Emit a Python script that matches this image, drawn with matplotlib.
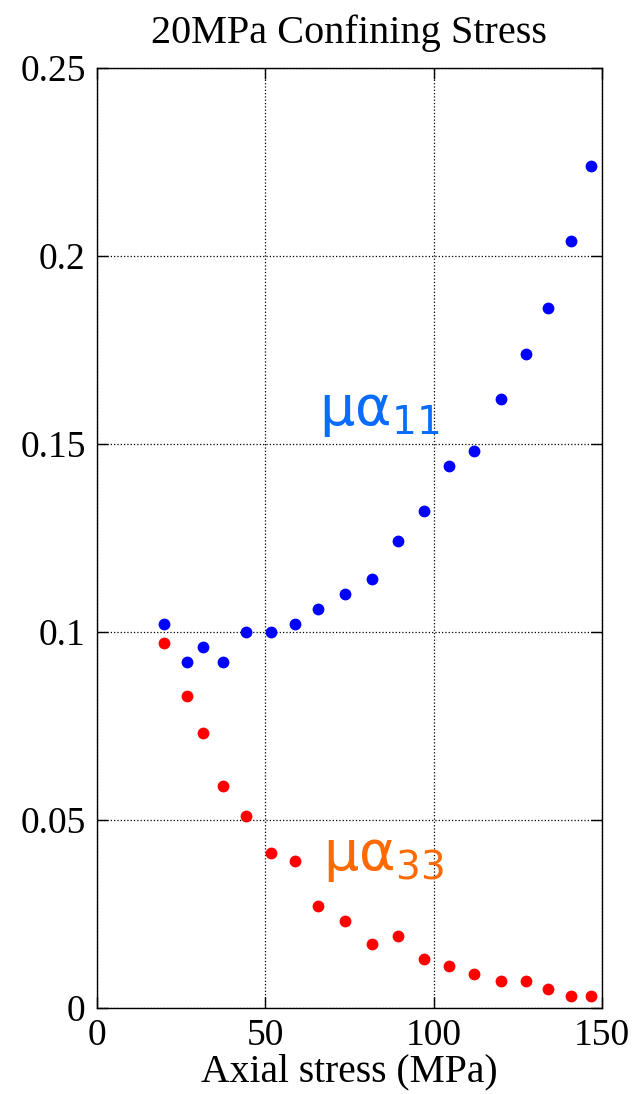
import numpy as np
import matplotlib
matplotlib.use('Agg')
import matplotlib.pyplot as plt

# axial stress values (MPa)
axial = [20.0, 26.7, 31.4, 37.4, 44.3, 51.8, 58.8, 65.7, 73.7, 81.7,
         89.5, 97.1, 104.7, 112.0, 120.0, 127.6, 134.1, 140.9, 146.7]

# mu*alpha_11 (blue) and mu*alpha_33 (red)
mu_a11 = [0.102, 0.092, 0.096, 0.092, 0.100, 0.100, 0.102, 0.106, 0.110, 0.114,
          0.124, 0.132, 0.144, 0.148, 0.162, 0.174, 0.186, 0.204, 0.224]
mu_a33 = [0.097, 0.083, 0.073, 0.059, 0.051, 0.041, 0.039, 0.027, 0.023, 0.017,
          0.019, 0.013, 0.011, 0.009, 0.007, 0.007, 0.005, 0.003, 0.003]

xticks = [0, 50, 100, 150]
yticks = [0, 0.05, 0.1, 0.15, 0.2, 0.25]
yticklabels = ['0', '0.05', '0.1', '0.15', '0.2', '0.25']

plt.rcParams['font.family'] = ['Liberation Serif', 'DejaVu Serif']

fig = plt.figure(figsize=(6.41, 10.94), dpi=100)
ax = fig.add_axes([0.151, 0.079, 0.788, 0.859])

ax.plot(axial, mu_a11, 'o', color='#0000ff', markersize=8.5, markeredgewidth=0)
ax.plot(axial, mu_a33, 'o', color='#ff0000', markersize=8.5, markeredgewidth=0)

ax.set_xlim(0, 150)
ax.set_ylim(0, 0.25)
ax.set_xticks(xticks)
ax.set_yticks(yticks)
ax.set_yticklabels(yticklabels)
ax.tick_params(direction='in', length=8, width=1, labelsize=27,
               top=True, right=True, pad=8)
ax.grid(True, linestyle=':', color='black', linewidth=0.9)
for s in ax.spines.values():
    s.set_linewidth(1.0)

ax.set_title('20MPa Confining Stress', fontsize=29, pad=18)
ax.set_xlabel('Axial stress (MPa)', fontsize=28.5, labelpad=0)

ax.text(66, 0.155, r'$\mathregular{μα_{11}}$', color='#0a6cff', fontsize=40,
        family='DejaVu Sans')
ax.text(67.2, 0.0365, r'$\mathregular{μα_{33}}$', color='#ff6a00', fontsize=40,
        family='DejaVu Sans')

fig.savefig('out.png', dpi=100)
